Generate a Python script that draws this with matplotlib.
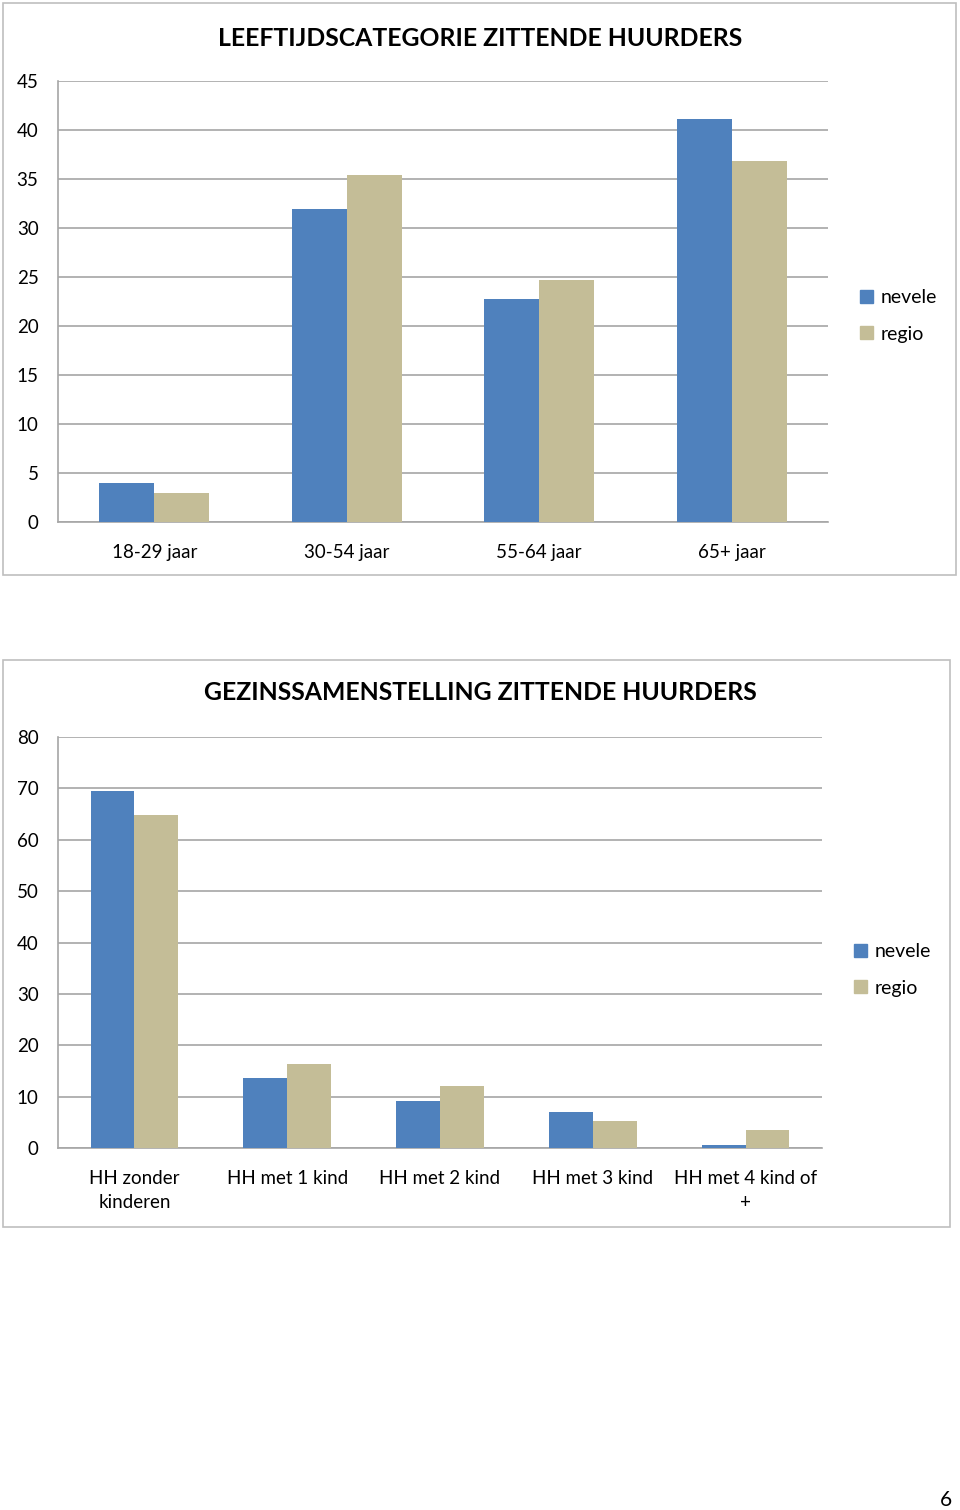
import matplotlib
matplotlib.use("Agg")
import matplotlib.pyplot as plt
from matplotlib.patches import Rectangle, Patch
import numpy as np

plt.rcParams['font.family'] = ['Lato', 'DejaVu Sans']

# Chart 1 data
age_categories = ["18-29 jaar", "30-54 jaar", "55-64 jaar", "65+ jaar"]
age_nevele = [4.0, 31.9, 22.8, 41.1]
age_regio = [3.0, 35.4, 24.7, 36.8]
age_ticks = [0, 5, 10, 15, 20, 25, 30, 35, 40, 45]

# Chart 2 data
hh_categories = ["HH zonder\nkinderen", "HH met 1 kind", "HH met 2 kind",
                 "HH met 3 kind", "HH met 4 kind of\n+"]
hh_nevele = [69.4, 13.6, 9.1, 7.0, 0.5]
hh_regio = [64.9, 16.3, 12.0, 5.2, 3.6]
hh_ticks = [0, 10, 20, 30, 40, 50, 60, 70, 80]

series_names = ["nevele", "regio"]
BLUE = "#4F81BD"
TAN = "#C4BD97"
GRID = "#A6A6A6"
BORDER = "#BFBFBF"

W, H = 960, 1510
fig = plt.figure(figsize=(W / 100, H / 100), dpi=100)


def fx(px):
    return px / W


def fy(py):
    return 1 - py / H


def draw_box(x0, y0, x1, y1):
    fig.add_artist(Rectangle((fx(x0), fy(y1)), fx(x1) - fx(x0), fy(y0) - fy(y1),
                             transform=fig.transFigure, fill=False,
                             edgecolor=BORDER, linewidth=1.2))


def draw_chart(rect, cats, nev, reg, ticks, title, title_y, legend_x, legend_y):
    x0, y0, x1, y1 = rect
    ax = fig.add_axes([fx(x0), fy(y1), fx(x1) - fx(x0), fy(y0) - fy(y1)])
    x = np.arange(len(cats))
    bw = 0.286
    ax.bar(x - bw / 2, nev, width=bw, color=BLUE, label=series_names[0], zorder=3)
    ax.bar(x + bw / 2, reg, width=bw, color=TAN, label=series_names[1], zorder=3)
    ax.set_xlim(-0.5, len(cats) - 0.5)
    ax.set_ylim(ticks[0], ticks[-1])
    ax.set_yticks(ticks)
    ax.set_xticks(x)
    ax.set_xticklabels(cats, multialignment='center', linespacing=1.5)
    ax.tick_params(axis='y', length=0, pad=14, labelsize=13.5, colors='black')
    ax.tick_params(axis='x', length=0, pad=16, labelsize=13.5, colors='black')
    ax.yaxis.grid(True, color=GRID, linewidth=1.2, zorder=0)
    ax.set_axisbelow(True)
    for s in ['top', 'right']:
        ax.spines[s].set_visible(False)
    for s in ['left', 'bottom']:
        ax.spines[s].set_color(GRID)
        ax.spines[s].set_linewidth(1.2)
    fig.text(0.5, fy(title_y), title, ha='center', va='center',
             fontsize=17.8, fontweight='bold', color='black')
    handles = [Patch(color=BLUE), Patch(color=TAN)]
    fig.legend(handles, series_names, loc='center left',
               bbox_to_anchor=(fx(legend_x), fy(legend_y)),
               frameon=False, fontsize=14, handlelength=0.65, handleheight=0.65,
               handletextpad=0.4, labelspacing=1.0, borderpad=0, borderaxespad=0)
    return ax


draw_box(3, 3, 956, 575)
draw_chart((58, 81, 828, 522), age_categories, age_nevele, age_regio, age_ticks,
           "LEEFTIJDSCATEGORIE ZITTENDE HUURDERS", 38, 860, 316)

draw_box(3, 660, 950, 1227)
draw_chart((58, 737, 822, 1148), hh_categories, hh_nevele, hh_regio, hh_ticks,
           "GEZINSSAMENSTELLING ZITTENDE HUURDERS", 693, 854, 970)

fig.text(fx(946), fy(1500), "6", ha='center', va='center', fontsize=15, color='black')

fig.savefig("out.png", dpi=100, facecolor='white')
